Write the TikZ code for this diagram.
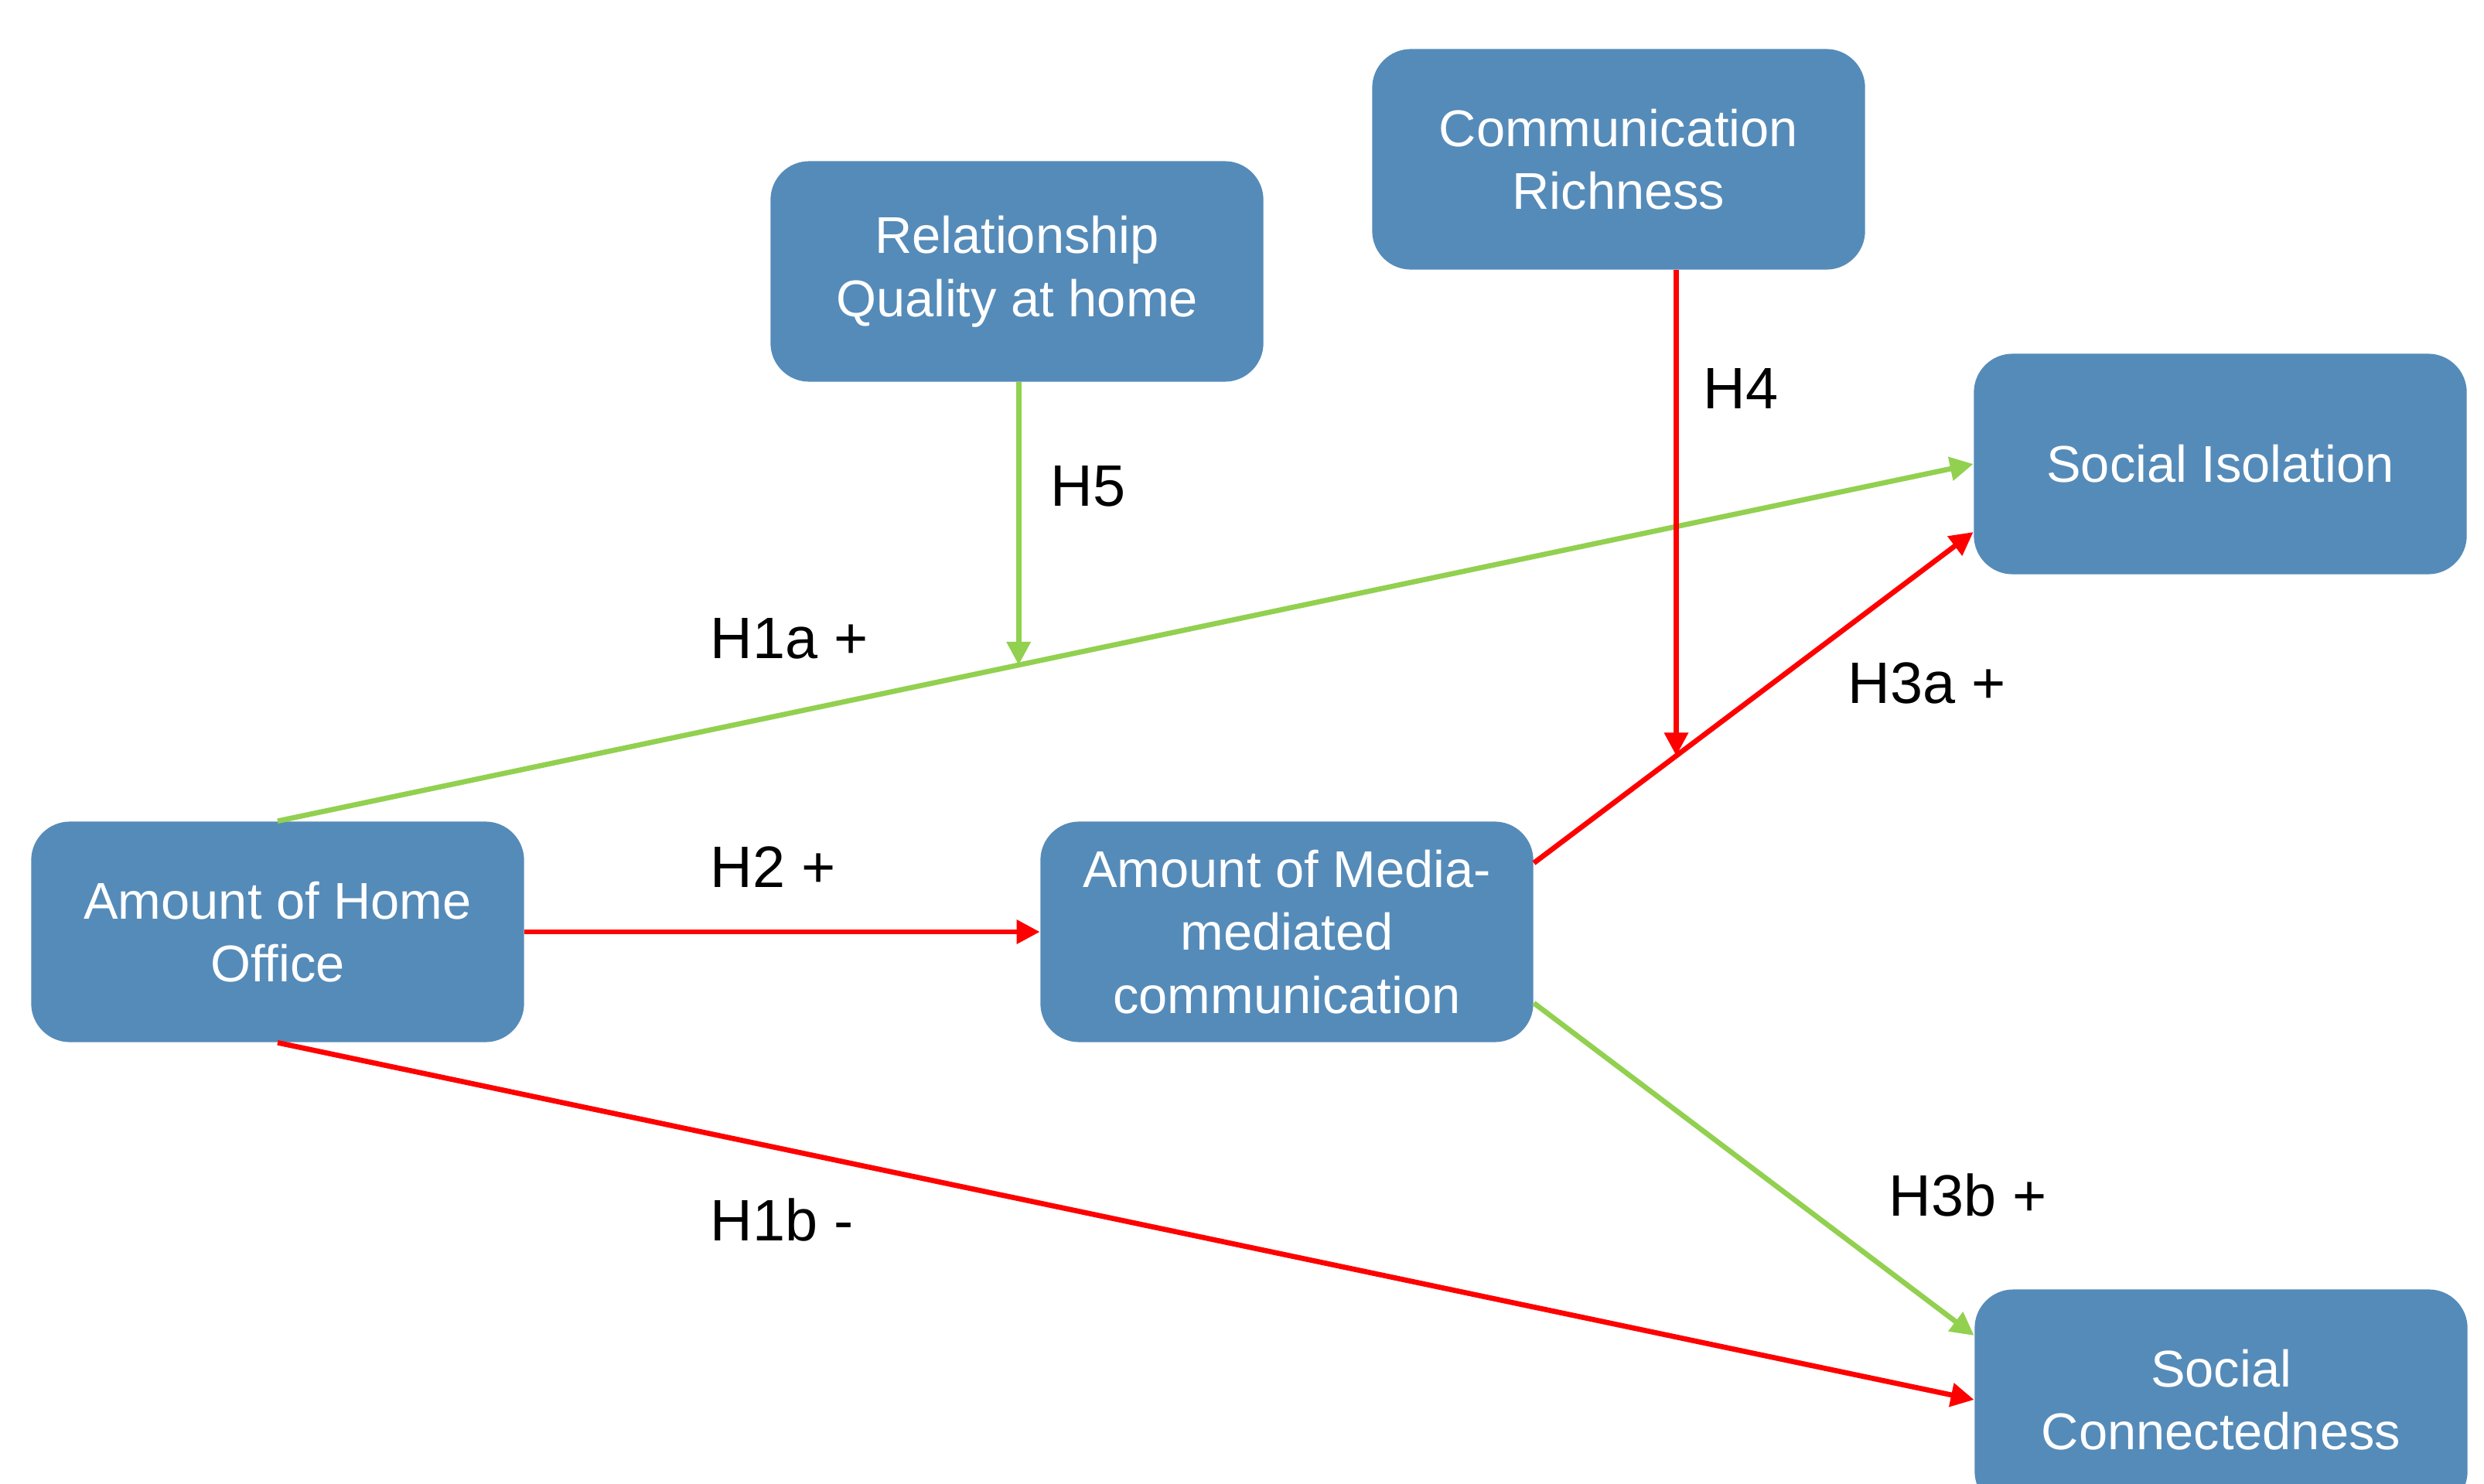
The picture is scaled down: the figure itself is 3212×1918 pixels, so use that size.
\documentclass[tikz,border=0pt]{standalone}
\usepackage{fontspec}
\setmainfont{Liberation Sans}
\usepackage{xcolor}
\usepackage{tikz}
\usetikzlibrary{arrows.meta}
\definecolor{boxblue}{HTML}{558BB9}
\definecolor{hgreen}{HTML}{92D050}
\definecolor{hred}{HTML}{FF0000}

\begin{document}
\begin{tikzpicture}[x=0.01cm, y=-0.01cm, >={Triangle[length=0.3cm,width=0.3cm]},
    var/.style={rectangle, rounded corners=0.5cm, fill=boxblue, text=white, align=center,
        minimum width=6.37cm, minimum height=2.85cm, inner sep=0pt,
        font=\fontsize{19}{23.2}\selectfont},
    hyp/.style={anchor=west, inner sep=0pt, font=\fontsize{21.5}{26}\selectfont},
    greenarr/.style={->, line width=1.9pt, draw=hgreen},
    redarr/.style={->, line width=1.9pt, draw=hred}]
    \useasboundingbox (0,0) rectangle (3212,1918);

    \node[var] (ho) at (359,1205) {Amount of Home\\Office};
    \node[var] (mm) at (1664,1205) {Amount of Media-\\mediated\\communication};
    \node[var] (rq) at (1315,351) {Relationship\\Quality at home};
    \node[var] (cr) at (2093,206) {Communication\\Richness};
    \node[var] (si) at (2871,600) {Social Isolation};
    \node[var] (sc) at (2872,1810) {Social\\Connectedness};

    \draw[greenarr] (ho.north) -- coordinate[pos=0.437] (h5end) (si.west);
    \draw[redarr] (ho.east) -- (mm.west);
    \draw[redarr] (ho.south) -- (sc.west);
    \draw[redarr] ([yshift=0.89cm]mm.east) -- coordinate[pos=0.324] (h4end) ([yshift=-0.88cm]si.west);
    \draw[greenarr] ([yshift=-0.92cm]mm.east) -- ([yshift=0.83cm]sc.west);
    \draw[greenarr] (h5end |- rq.south) -- (h5end);
    \draw[redarr] (h4end |- cr.south) -- (h4end);

    \node[hyp] (h1a) at (918,826) {H1a +};
    \node[hyp] (h2) at (918,1121) {H2 +};
    \node[hyp] (h1b) at (918,1577) {H1b -};
    \node[hyp] (h5) at (1358,629) {H5};
    \node[hyp] (h4) at (2202,502) {H4};
    \node[hyp] (h3a) at (2389,883) {H3a +};
    \node[hyp] (h3b) at (2442,1545) {H3b +};
\end{tikzpicture}
\end{document}
